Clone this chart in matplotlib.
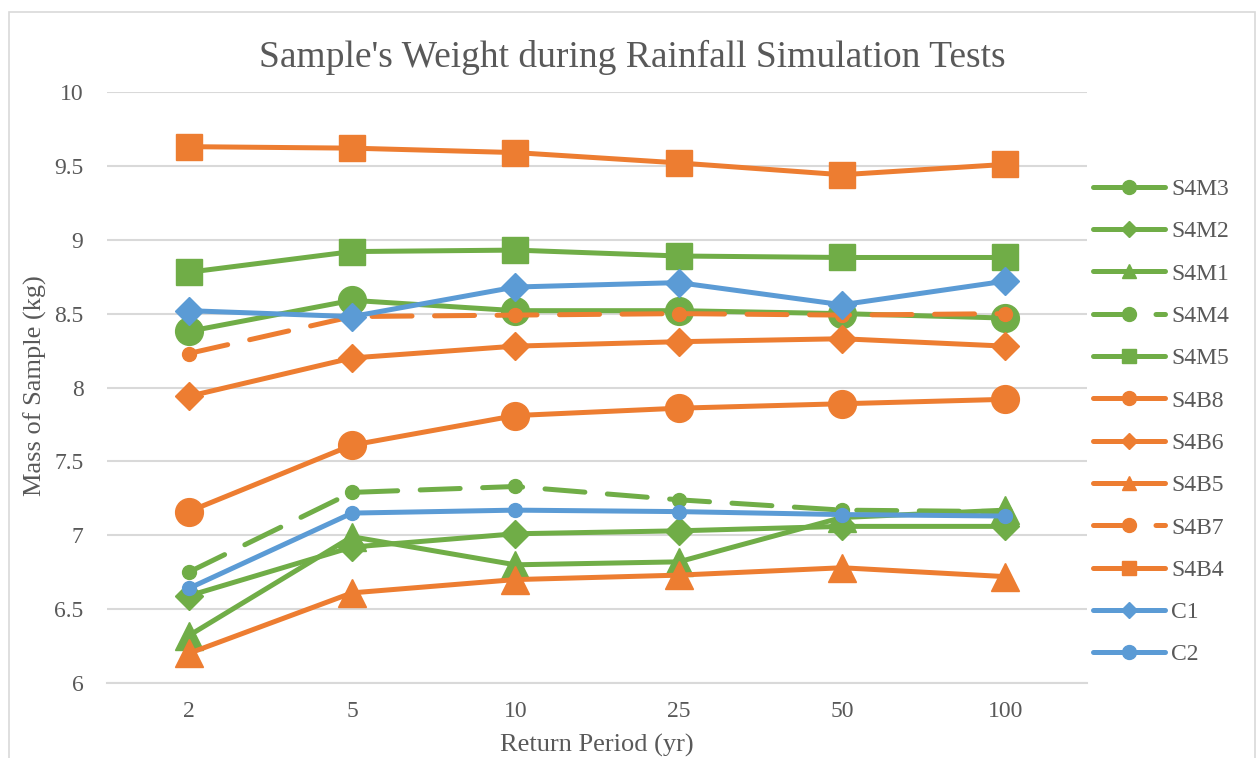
import matplotlib.pyplot as plt
from matplotlib.lines import Line2D
from matplotlib.patches import Rectangle

# data
periodos = ['2', '5', '10', '25', '50', '100']

s4m3 = [8.38, 8.59, 8.52, 8.52, 8.50, 8.47]
s4m2 = [6.59, 6.92, 7.01, 7.03, 7.06, 7.06]
s4m1 = [6.32, 6.99, 6.80, 6.82, 7.12, 7.17]
s4m4 = [6.75, 7.29, 7.33, 7.24, 7.17, 7.16]
s4m5 = [8.78, 8.92, 8.93, 8.89, 8.88, 8.88]
s4b8 = [7.16, 7.61, 7.81, 7.86, 7.89, 7.92]
s4b6 = [7.94, 8.20, 8.28, 8.31, 8.33, 8.28]
s4b5 = [6.20, 6.61, 6.70, 6.73, 6.78, 6.72]
s4b7 = [8.23, 8.48, 8.49, 8.50, 8.49, 8.50]
s4b4 = [9.63, 9.62, 9.59, 9.52, 9.44, 9.51]
c1 = [8.52, 8.48, 8.68, 8.71, 8.56, 8.72]
c2 = [6.64, 7.15, 7.17, 7.16, 7.14, 7.13]

verde = '#70AD47'
laranja = '#ED7D31'
azul = '#5B9BD5'
cinza_texto = '#595959'
cinza_grade = '#D9D9D9'

# (nome, valores, cor, marcador, tamanho, tracejado)
series = [
    ('S4M3', s4m3, verde, 'o', 20, False),
    ('S4M2', s4m2, verde, 'D', 14, False),
    ('S4M1', s4m1, verde, '^', 20, False),
    ('S4M4', s4m4, verde, 'o', 10, True),
    ('S4M5', s4m5, verde, 's', 19, False),
    ('S4B8', s4b8, laranja, 'o', 20, False),
    ('S4B6', s4b6, laranja, 'D', 14, False),
    ('S4B5', s4b5, laranja, '^', 20, False),
    ('S4B7', s4b7, laranja, 'o', 10, True),
    ('S4B4', s4b4, laranja, 's', 19, False),
    ('C1', c1, azul, 'D', 14, False),
    ('C2', c2, azul, 'o', 10, False),
]

plt.rcParams['font.family'] = ['Liberation Serif', 'DejaVu Serif']

fig = plt.figure(figsize=(12.58, 7.58), dpi=100)
ax = fig.add_axes([107 / 1258, 1 - 683 / 758, 980 / 1258, 591 / 758])

x = list(range(len(periodos)))
handles = []
for nome, valores, cor, marc, tam, tracejado in series:
    estilo = dict(color=cor, linewidth=3.6, marker=marc, markersize=tam,
                  solid_capstyle='round', dash_capstyle='round')
    if tracejado:
        ax.plot(x, valores, linestyle=(0, (8, 4.5)), **estilo)
    else:
        ax.plot(x, valores, linestyle='-', **estilo)
    tam_leg = 10 if marc in ('o', '^', 's') else 8
    handles.append(Line2D([], [], color=cor, linewidth=3.6, marker=marc,
                          markersize=tam_leg, solid_capstyle='round',
                          dash_capstyle='round',
                          linestyle=(0, (8, 4.5)) if tracejado else '-',
                          label=nome))

ax.set_xlim(-0.5, len(periodos) - 0.5)
ax.set_ylim(6, 10)
ax.set_yticks([6, 6.5, 7, 7.5, 8, 8.5, 9, 9.5, 10])
ax.set_yticklabels(['6', '6.5', '7', '7.5', '8', '8.5', '9', '9.5', '10'])
ax.set_xticks(x)
ax.set_xticklabels(periodos)
ax.tick_params(axis='both', length=0, labelsize=17, colors=cinza_texto)
ax.tick_params(axis='y', pad=17)
ax.tick_params(axis='x', pad=13)
ax.grid(axis='y', color=cinza_grade, linewidth=1.5)
ax.set_axisbelow(True)
for lado in ['top', 'right', 'left']:
    ax.spines[lado].set_visible(False)
ax.spines['bottom'].set_color(cinza_grade)
ax.spines['bottom'].set_linewidth(1.5)

fig.text(0.503, 1 - 57 / 758, "Sample's Weight during Rainfall Simulation Tests",
         ha='center', va='center', fontsize=27, color=cinza_texto)
fig.text(35 / 1258, 1 - 386 / 758, 'Mass of Sample (kg)', rotation=90,
         ha='center', va='center', fontsize=19, color=cinza_texto)
fig.text(597 / 1258, 1 - 745 / 758, 'Return Period (yr)',
         ha='center', va='center', fontsize=19, color=cinza_texto)

leg = fig.legend(handles=handles, loc='center left',
                 bbox_to_anchor=(1093 / 1258, 1 - 422 / 758),
                 frameon=False, fontsize=17, labelspacing=0.88,
                 handlelength=3.05, handletextpad=0.25, borderpad=0,
                 borderaxespad=0)
for t in leg.get_texts():
    t.set_color(cinza_texto)

# borda do gráfico
fig.patches.append(Rectangle((9 / 1258, -0.05), 1246 / 1258, 1.05 - 12 / 758,
                             transform=fig.transFigure, fill=False,
                             edgecolor=cinza_grade, linewidth=1.2))

fig.savefig('out.png', dpi=100)
